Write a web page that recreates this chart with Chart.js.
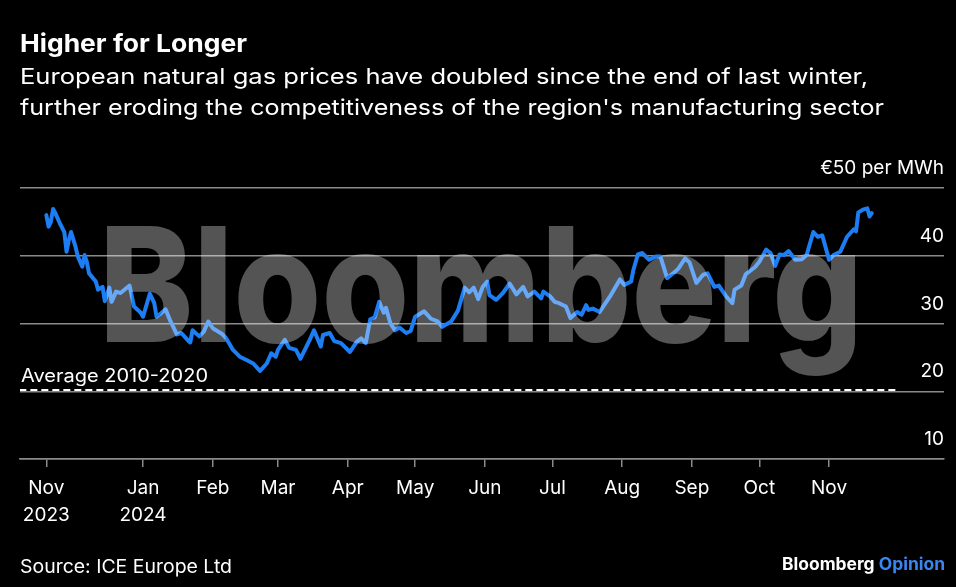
<!DOCTYPE html>
<html><head><meta charset="utf-8">
<script src="https://cdn.jsdelivr.net/npm/chart.js@4.4.1/dist/chart.umd.min.js"></script>
<style>html,body{margin:0;padding:0;background:#000;overflow:hidden}#wrap{width:956px;height:587px;position:relative}canvas{display:block}</style>
</head><body><div id="wrap"><canvas id="c" width="956" height="587"></canvas></div>
<script>
// ---- data ----
const dates = [
'2023-11-19','2023-11-20','2023-11-21','2023-11-22','2023-11-23','2023-11-25','2023-11-27','2023-11-28','2023-11-29','2023-11-30',
'2023-12-02','2023-12-03','2023-12-05','2023-12-06','2023-12-07','2023-12-08','2023-12-11','2023-12-12','2023-12-14','2023-12-15',
'2023-12-17','2023-12-18','2023-12-20','2023-12-22','2023-12-26','2023-12-28','2023-12-31','2024-01-01','2024-01-04','2024-01-06',
'2024-01-07','2024-01-09','2024-01-11','2024-01-13','2024-01-16','2024-01-18','2024-01-21','2024-01-22','2024-01-23','2024-01-26',
'2024-01-28','2024-01-30','2024-02-01','2024-02-05','2024-02-07','2024-02-10','2024-02-13','2024-02-16','2024-02-19','2024-02-22',
'2024-02-25','2024-02-27','2024-02-29','2024-03-01','2024-03-04','2024-03-06','2024-03-09','2024-03-11','2024-03-15','2024-03-17',
'2024-03-20','2024-03-21','2024-03-24','2024-03-26','2024-03-29','2024-04-02','2024-04-05','2024-04-07','2024-04-09','2024-04-11',
'2024-04-13','2024-04-15','2024-04-17','2024-04-18','2024-04-20','2024-04-22','2024-04-24','2024-04-27','2024-04-29','2024-05-01',
'2024-05-05','2024-05-08','2024-05-11','2024-05-13','2024-05-17','2024-05-20','2024-05-23','2024-05-25','2024-05-27','2024-05-29',
'2024-05-31','2024-06-02','2024-06-03','2024-06-06','2024-06-09','2024-06-12','2024-06-15','2024-06-18','2024-06-20','2024-06-23',
'2024-06-26','2024-06-27','2024-06-30','2024-07-02','2024-07-04','2024-07-07','2024-07-09','2024-07-12','2024-07-14','2024-07-16',
'2024-07-17','2024-07-19','2024-07-22','2024-07-24','2024-07-27','2024-07-31','2024-08-02','2024-08-05','2024-08-06','2024-08-08',
'2024-08-10','2024-08-13','2024-08-16','2024-08-18','2024-08-21','2024-08-24','2024-08-26','2024-08-29','2024-08-31','2024-09-03',
'2024-09-06','2024-09-08','2024-09-11','2024-09-13','2024-09-16','2024-09-19','2024-09-20','2024-09-23','2024-09-25','2024-09-29',
'2024-10-01','2024-10-04','2024-10-06','2024-10-08','2024-10-10','2024-10-12','2024-10-14','2024-10-17','2024-10-20','2024-10-22',
'2024-10-25','2024-10-27','2024-10-29','2024-11-01','2024-11-03','2024-11-06','2024-11-09','2024-11-12','2024-11-13','2024-11-14',
'2024-11-16','2024-11-18','2024-11-19','2024-11-20'];
const prices = [
46.0,44.3,45.0,46.9,46.3,44.8,43.5,40.6,42.3,43.5,
41.3,39.9,38.4,40.1,39.1,37.4,36.2,35.0,35.4,33.3,
35.3,33.2,34.7,34.5,35.6,32.5,31.6,31.0,34.4,33.0,
31.0,31.5,32.1,30.5,28.4,28.6,27.5,27.2,29.0,28.1,
28.8,30.3,29.3,28.5,27.8,26.1,25.1,24.6,24.1,23.0,
24.1,25.6,25.1,26.1,27.6,26.4,26.1,24.8,27.5,29.0,
26.6,28.3,28.6,27.4,27.1,25.8,27.3,27.8,27.1,30.6,
30.9,33.2,31.6,32.3,30.0,29.0,29.4,28.6,28.9,31.0,
31.8,30.7,30.3,29.5,30.3,31.9,35.3,34.6,35.3,33.6,
35.4,36.2,34.2,33.5,34.5,35.9,34.3,35.4,34.0,34.7,
33.7,34.7,34.0,33.2,33.0,32.5,30.8,31.7,31.3,32.7,
32.0,32.2,31.7,32.7,34.2,36.5,35.7,36.2,37.9,40.2,
40.4,39.4,39.9,39.9,36.7,37.5,38.1,39.6,39.0,36.0,
37.2,37.4,35.4,35.6,34.1,33.0,35.0,35.6,37.3,38.3,
39.1,40.9,40.4,38.5,40.2,40.1,40.7,39.4,39.5,40.1,
43.5,42.8,43.0,39.4,40.1,40.6,42.8,43.9,43.6,46.4,
46.8,47.0,45.8,46.3];
const avgLabel = 'Average 2010-2020';
const avgValue = 20.2;
const avgSpan = ['2023-11-07','2024-12-02'];
const yTicks = [10, 20, 30, 40, 50];
const yUnit = '€50 per MWh';
const monthTickDates = ['2023-11-19','2024-01-01','2024-02-01','2024-03-01','2024-04-01','2024-05-01','2024-06-01','2024-07-01','2024-08-01','2024-09-01','2024-10-01','2024-11-01'];
const monthTickLabels = [['Nov','2023'],['Jan','2024'],'Feb','Mar','Apr','May','Jun','Jul','Aug','Sep','Oct','Nov'];
const titleText = 'Higher for Longer';
const subtitleLines = ['European natural gas prices have doubled since the end of last winter,', "further eroding the competitiveness of the region's manufacturing sector"];
const sourceText = 'Source: ICE Europe Ltd';

// ---- helpers ----
const epoch = Date.UTC(2023, 10, 1);
const dayOf = s => (Date.UTC(+s.slice(0,4), +s.slice(5,7)-1, +s.slice(8,10)) - epoch) / 864e5;
const FONT = 'Inter, "Liberation Sans", Arial, sans-serif';
const GRID = '#8a8a8a';
const BLUE = '#1d7ef4';

const series = dates.map((d, i) => ({x: dayOf(d), y: prices[i]}));
const avgLine = avgSpan.map(d => ({x: dayOf(d), y: avgValue}));
const tickDays = monthTickDates.map(dayOf);

// draw text stretched horizontally to a given width (the reference face is wider than Inter)
function fitText(c, text, x, y, width, align) {
  const w = c.measureText(text).width;
  const sx = width / w;
  c.save();
  c.textAlign = 'left';
  c.translate(align === 'right' ? x - width : x, y);
  c.scale(sx, 1);
  c.fillText(text, 0, 0);
  c.restore();
}

const decor = {
  id: 'decor',
  beforeDraw(chart) {
    const c = chart.ctx;
    c.save(); c.fillStyle = '#000'; c.fillRect(0, 0, chart.width, chart.height); c.restore();
  },
  afterDatasetsDraw(chart) {
    const c = chart.ctx;
    c.save();
    c.font = '800 100px ' + FONT;
    const asc = c.measureText('B').actualBoundingBoxAscent;
    const fs = 116 / asc * 100;
    c.font = '800 ' + fs.toFixed(1) + 'px ' + FONT;
    c.fillStyle = 'rgba(255,255,255,0.33)';
    c.textBaseline = 'alphabetic';
    fitText(c, 'Bloomberg', 99, 342, 764);
    c.restore();
  },
  afterDraw(chart) {
    const c = chart.ctx;
    const y = chart.scales.y;
    c.save();
    c.fillStyle = '#fff';
    c.textBaseline = 'alphabetic';
    c.font = '400 18px ' + FONT;
    fitText(c, avgLabel, chart.chartArea.left + 1, y.getPixelForValue(avgValue) - 8, 187);
    c.font = '700 24.5px ' + FONT;
    fitText(c, titleText, 20, 52, 227);
    c.font = '400 22px ' + FONT;
    fitText(c, subtitleLines[0], 20, 83.5, 848);
    fitText(c, subtitleLines[1], 20, 114.5, 864);
    c.font = '400 18.5px ' + FONT;
    fitText(c, sourceText, 20, 573, 212);
    c.font = '700 17px ' + FONT;
    const full = 'Bloomberg Opinion';
    const sx = 163 / c.measureText(full).width;
    const bw = c.measureText('Bloomberg ').width * sx;
    c.fillStyle = '#fff';
    fitText(c, 'Bloomberg', 782, 570, c.measureText('Bloomberg').width * sx);
    c.fillStyle = '#3b85ef';
    fitText(c, 'Opinion', 782 + bw, 570, c.measureText('Opinion').width * sx);
    c.restore();
  }
};

Chart.defaults.font.family = FONT;
Chart.defaults.color = '#fff';

new Chart(document.getElementById('c'), {
  type: 'line',
  data: {
    datasets: [
      {data: series, borderColor: BLUE, borderWidth: 4, pointRadius: 0, tension: 0, borderJoinStyle: 'round', borderCapStyle: 'round', order: 1},
      {data: avgLine, borderColor: '#fff', borderWidth: 2, borderDash: [7, 4], pointRadius: 0, order: 2}
    ]
  },
  options: {
    responsive: false,
    animation: false,
    events: [],
    layout: {padding: {left: 20, right: 12, top: 188, bottom: 60}},
    plugins: {legend: {display: false}, tooltip: {enabled: false}, title: {display: false}},
    scales: {
      x: {
        type: 'linear', min: 6.3, max: 417.1,
        afterBuildTicks: s => { s.ticks = tickDays.map(v => ({value: v})); },
        afterFit: s => { s.height = 68; s.paddingLeft = 0; s.paddingRight = 0; },
        grid: {display: true, drawOnChartArea: false, drawTicks: true, tickLength: 8, color: GRID, lineWidth: 1.5},
        border: {display: true, color: GRID, width: 1.5},
        ticks: {autoSkip: false, maxRotation: 0, padding: 8, color: '#fff', font: {size: 19, lineHeight: 1.4},
                callback: (v, i) => monthTickLabels[i]}
      },
      y: {
        type: 'linear', position: 'right', min: 10, max: 50,
        afterBuildTicks: s => { s.ticks = yTicks.map(v => ({value: v})); },
        afterFit: s => { s.width = 0; s.paddingTop = 0; s.paddingBottom = 0; },
        grid: {color: GRID, lineWidth: 1.5, drawTicks: false},
        border: {display: false},
        ticks: {mirror: true, padding: 0, labelOffset: -19.5, crossAlign: 'near', color: '#fff', font: {size: 19},
                callback: v => v === 50 ? yUnit : String(v)}
      }
    }
  },
  plugins: [decor]
});
</script></body></html>
